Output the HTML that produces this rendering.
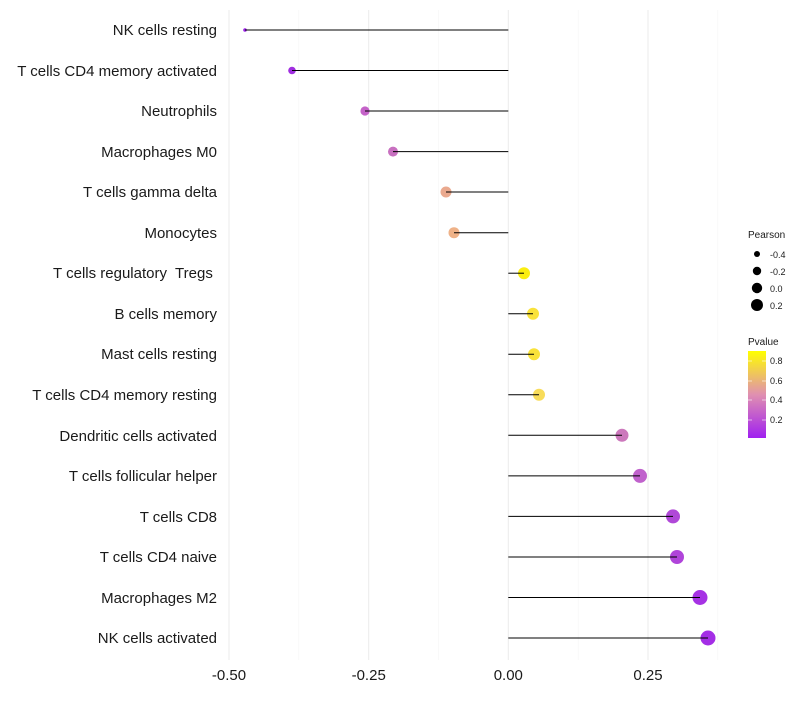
<!DOCTYPE html>
<html><head><style>body{margin:0;background:#fff}</style></head><body>
<svg width="800" height="700" xmlns="http://www.w3.org/2000/svg" font-family="Liberation Sans, sans-serif">
<defs><linearGradient id="g" x1="0" y1="1" x2="0" y2="0"><stop offset="0" stop-color="#a020f0"/><stop offset="0.5" stop-color="#e090b0"/><stop offset="1" stop-color="#ffff00"/></linearGradient></defs>
<g stroke="#ebebeb" stroke-width="1">
<line x1="229" y1="10" x2="229" y2="660"/><line x1="368.7" y1="10" x2="368.7" y2="660"/><line x1="508.3" y1="10" x2="508.3" y2="660"/><line x1="648" y1="10" x2="648" y2="660"/>
</g>
<g stroke="#f5f5f5" stroke-width="0.6">
<line x1="298.8" y1="10" x2="298.8" y2="660"/><line x1="438.5" y1="10" x2="438.5" y2="660"/><line x1="578.2" y1="10" x2="578.2" y2="660"/><line x1="717.8" y1="10" x2="717.8" y2="660"/>
</g>
<g font-size="15" fill="#1a1a1a" text-anchor="end">
<text x="217" y="35">NK cells resting</text>
<text x="217" y="76">T cells CD4 memory activated</text>
<text x="217" y="116">Neutrophils</text>
<text x="217" y="157">Macrophages M0</text>
<text x="217" y="197">T cells gamma delta</text>
<text x="217" y="238">Monocytes</text>
<text x="217" y="278" xml:space="preserve">T cells regulatory  Tregs </text>
<text x="217" y="319">B cells memory</text>
<text x="217" y="359">Mast cells resting</text>
<text x="217" y="400">T cells CD4 memory resting</text>
<text x="217" y="441">Dendritic cells activated</text>
<text x="217" y="481">T cells follicular helper</text>
<text x="217" y="522">T cells CD8</text>
<text x="217" y="562">T cells CD4 naive</text>
<text x="217" y="603">Macrophages M2</text>
<text x="217" y="643">NK cells activated</text>
</g>
<g font-size="15" fill="#1a1a1a" text-anchor="middle">
<text x="229" y="680">-0.50</text><text x="368.7" y="680">-0.25</text><text x="508.3" y="680">0.00</text><text x="648" y="680">0.25</text>
</g>
<g>
<circle cx="245" cy="30" r="1.8" fill="#9b20e8"/>
<circle cx="292" cy="70.5" r="3.8" fill="#a02ee0"/>
<circle cx="365" cy="111" r="4.6" fill="#c462c8"/>
<circle cx="393" cy="151.6" r="5" fill="#c870c0"/>
<circle cx="446" cy="192" r="5.5" fill="#eaa98e"/>
<circle cx="454" cy="232.7" r="5.5" fill="#efb288"/>
<circle cx="524" cy="273.2" r="6" fill="#fbee10"/>
<circle cx="533" cy="313.7" r="6" fill="#f9e23a"/>
<circle cx="534" cy="354.3" r="6" fill="#f9e23a"/>
<circle cx="539" cy="394.8" r="6" fill="#f8dc5a"/>
<circle cx="622" cy="435.3" r="6.5" fill="#cc78bc"/>
<circle cx="640" cy="475.9" r="7" fill="#c062cc"/>
<circle cx="673" cy="516.4" r="7" fill="#b048d8"/>
<circle cx="677" cy="557" r="7" fill="#b044da"/>
<circle cx="700" cy="597.5" r="7.5" fill="#a632e4"/>
<circle cx="708" cy="638" r="7.5" fill="#a42ee6"/>
</g>
<g stroke="#000" stroke-width="1">
<line x1="245" y1="30" x2="508.3" y2="30"/><line x1="292" y1="70.5" x2="508.3" y2="70.5"/><line x1="365" y1="111" x2="508.3" y2="111"/><line x1="393" y1="151.6" x2="508.3" y2="151.6"/><line x1="446" y1="192" x2="508.3" y2="192"/><line x1="454" y1="232.7" x2="508.3" y2="232.7"/><line x1="508.3" y1="273.2" x2="524" y2="273.2"/><line x1="508.3" y1="313.7" x2="533" y2="313.7"/><line x1="508.3" y1="354.3" x2="534" y2="354.3"/><line x1="508.3" y1="394.8" x2="539" y2="394.8"/><line x1="508.3" y1="435.3" x2="622" y2="435.3"/><line x1="508.3" y1="475.9" x2="640" y2="475.9"/><line x1="508.3" y1="516.4" x2="673" y2="516.4"/><line x1="508.3" y1="557" x2="677" y2="557"/><line x1="508.3" y1="597.5" x2="700" y2="597.5"/><line x1="508.3" y1="638" x2="708" y2="638"/>
</g>
<g font-size="10" fill="#1a1a1a">
<text x="748" y="238">Pearson</text>
<circle cx="757" cy="254" r="3" fill="#000"/><text x="770" y="258" font-size="9">-0.4</text>
<circle cx="757" cy="271" r="4.2" fill="#000"/><text x="770" y="275" font-size="9">-0.2</text>
<circle cx="757" cy="288" r="5.2" fill="#000"/><text x="770" y="292" font-size="9">0.0</text>
<circle cx="757" cy="305" r="6" fill="#000"/><text x="770" y="309" font-size="9">0.2</text>
<text x="748" y="345">Pvalue</text>
<rect x="748" y="351" width="18" height="87" fill="url(#g)"/>
<g stroke="#fff" stroke-opacity="0.6"><line x1="748" y1="361" x2="752" y2="361"/><line x1="762" y1="361" x2="766" y2="361"/><line x1="748" y1="381" x2="752" y2="381"/><line x1="762" y1="381" x2="766" y2="381"/><line x1="748" y1="400" x2="752" y2="400"/><line x1="762" y1="400" x2="766" y2="400"/><line x1="748" y1="420" x2="752" y2="420"/><line x1="762" y1="420" x2="766" y2="420"/></g>
<text x="770" y="364" font-size="9">0.8</text><text x="770" y="384" font-size="9">0.6</text><text x="770" y="403" font-size="9">0.4</text><text x="770" y="423" font-size="9">0.2</text>
</g>
</svg>
</body></html>
